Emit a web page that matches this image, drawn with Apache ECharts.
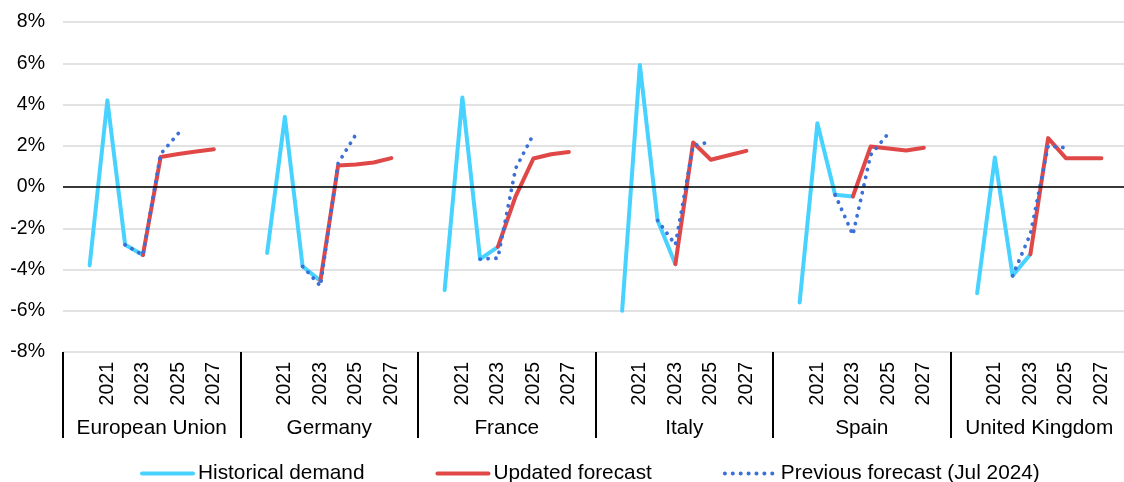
<!DOCTYPE html>
<html>
<head>
<meta charset="utf-8">
<script src="https://cdn.jsdelivr.net/npm/echarts@6/dist/echarts.min.js"></script>
<style>html,body{margin:0;padding:0;background:#fff;overflow:hidden;}#c{width:1124px;height:482px;}</style>
</head>
<body>
<div id="c"></div>
<script>
// ---- data ----
const groups = ['European Union', 'Germany', 'France', 'Italy', 'Spain', 'United Kingdom'];
const years = [2020, 2021, 2022, 2023, 2024, 2025, 2026, 2027];
const shownYears = [2021, 2023, 2025, 2027];
const yTicks = [-8, -6, -4, -2, 0, 2, 4, 6, 8];

// Historical demand, 2020-2023
const historicalDemand = [
  [-3.8, 4.2, -2.8, -3.3],
  [-3.2, 3.4, -3.85, -4.55],
  [-5.0, 4.34, -3.5, -2.9],
  [-6.0, 5.92, -1.62, -3.74],
  [-5.6, 3.09, -0.38, -0.46],
  [-5.15, 1.43, -4.3, -3.26]
];
// Updated forecast, 2023-2027
const updatedForecast = [
  [-3.3, 1.45, 1.6, 1.72, 1.83],
  [-4.55, 1.04, 1.09, 1.19, 1.4],
  [-2.9, -0.45, 1.38, 1.59, 1.7],
  [-3.74, 2.16, 1.32, 1.54, 1.75],
  [-0.46, 1.96, 1.87, 1.77, 1.9],
  [-3.26, 2.37, 1.4, 1.4, 1.4]
];
// Previous forecast (Jul 2024), 2022-2025
const previousForecast = [
  [-2.8, -3.3, 1.6, 2.6],
  [-3.85, -4.8, 1.15, 2.55],
  [-3.5, -3.45, 0.9, 2.55],
  [-1.62, -2.8, 2.0, 2.2],
  [-0.38, -2.32, 1.55, 2.6],
  [-4.3, -2.28, 2.0, 1.9]
];

// ---- build category axis: each group = blank, 2020..2027, blank ----
const slotsPerGroup = years.length + 2;
const cats = [];
groups.forEach((g, gi) => {
  cats.push(gi + '|');
  years.forEach(y => cats.push(gi + '|' + y));
  cats.push(gi + '| ');
});
function buildSeries(arr, startYear) {
  const out = new Array(cats.length).fill(null);
  arr.forEach((vals, gi) => {
    vals.forEach((v, k) => {
      const yi = years.indexOf(startYear + k);
      out[gi * slotsPerGroup + 1 + yi] = v;
    });
  });
  return out;
}

const font = 'Liberation Sans, Arial, sans-serif';
const chart = echarts.init(document.getElementById('c'), null, {renderer: 'canvas'});
chart.setOption({
  animation: false,
  textStyle: {fontFamily: font},
  grid: {left: 63, width: 1065, top: 22, height: 330, containLabel: false, outerBoundsMode: 'none'},
  legend: {
    top: 463, left: 140, padding: 0, itemWidth: 51, itemHeight: 14, itemGap: 71,
    itemStyle: {opacity: 0},
    lineStyle: {width: 4},
    textStyle: {fontSize: 20.8, color: '#000', fontFamily: font},
    data: ['Historical demand', 'Updated forecast', 'Previous forecast (Jul 2024)']
  },
  xAxis: [
    {
      type: 'category', data: cats, boundaryGap: true,
      axisLine: {show: false, onZero: false},
      axisTick: {show: false},
      axisLabel: {
        interval: 0, rotate: 90, margin: 10, fontSize: 19.5, color: '#000',
        formatter: v => {
          const y = +v.split('|')[1];
          return shownYears.includes(y) ? String(y) : '';
        }
      },
      splitLine: {show: false}
    },
    {
      type: 'category', data: groups, position: 'bottom', boundaryGap: true,
      axisLine: {show: false, onZero: false},
      axisTick: {show: true, length: 86, lineStyle: {color: '#000', width: 2}},
      axisLabel: {margin: 66, fontSize: 20.8, color: '#000', interval: 0}
    }
  ],
  yAxis: {
    type: 'value', min: yTicks[0], max: yTicks[yTicks.length - 1], interval: 2,
    axisLine: {show: false}, axisTick: {show: false},
    axisLabel: {formatter: '{value}%', fontSize: 19.5, color: '#000', margin: 18},
    splitLine: {lineStyle: {color: '#d9d9d9', width: 1.5}}
  },
  series: [
    {
      name: 'Historical demand', type: 'line', data: buildSeries(historicalDemand, 2020),
      symbol: 'none', connectNulls: false,
      itemStyle: {color: '#48D2FF'},
      lineStyle: {color: '#48D2FF', width: 4, cap: 'round', join: 'round'},
      markLine: {
        silent: true, symbol: 'none', label: {show: false},
        lineStyle: {color: '#000', width: 1.5, type: 'solid'},
        data: [{yAxis: 0}]
      },
      z: 2
    },
    {
      name: 'Updated forecast', type: 'line', data: buildSeries(updatedForecast, 2023),
      symbol: 'none', connectNulls: false,
      itemStyle: {color: '#E04848'},
      lineStyle: {color: '#E04848', width: 4, cap: 'round', join: 'round'},
      z: 3
    },
    {
      name: 'Previous forecast (Jul 2024)', type: 'line', data: buildSeries(previousForecast, 2022),
      symbol: 'none', connectNulls: false,
      itemStyle: {color: '#3A70D8'},
      lineStyle: {color: '#3A70D8', width: 3.8, type: [0.1, 7.8], cap: 'round'},
      z: 4
    }
  ]
});
</script>
</body>
</html>
